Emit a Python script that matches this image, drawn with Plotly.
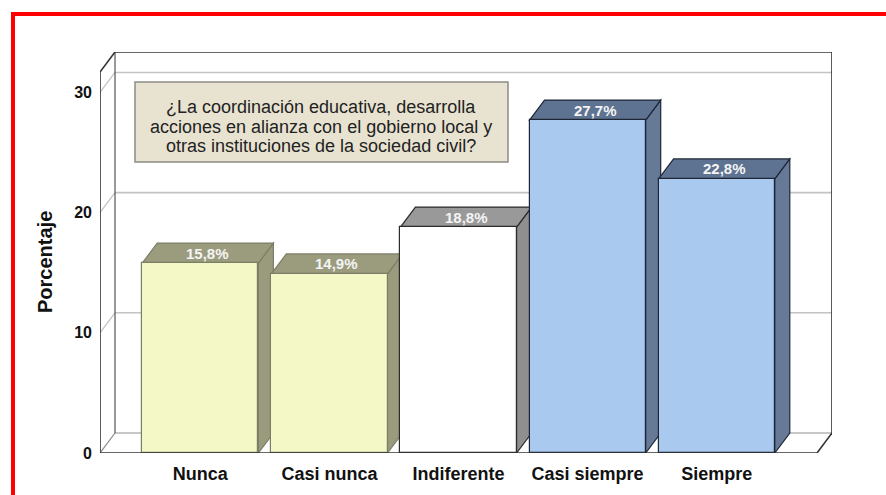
import plotly.graph_objects as go

# ---- data ----
categories = ["Nunca", "Casi nunca", "Indiferente", "Casi siempre", "Siempre"]
values = [15.8, 14.9, 18.8, 27.7, 22.8]
value_labels = ["15,8%", "14,9%", "18,8%", "27,7%", "22,8%"]
y_ticks = [0, 10, 20, 30]
title_lines = ["¿La coordinación educativa, desarrolla",
               "acciones en alianza con el gobierno local y",
               "otras instituciones de la sociedad civil?"]
y_title = "Porcentaje"

# ---- styles ----
front_colors = ["#f3f8c6", "#f3f8c6", "#ffffff", "#a9c9ef", "#a9c9ef"]
top_colors = ["#9b9c7e", "#9b9c7e", "#999999", "#5e7391", "#5e7391"]
side_colors = ["#9a9b7d", "#9a9b7d", "#8f8f8f", "#667a98", "#667a98"]
edge_colors = ["#7d7e66", "#7d7e66", "#2b2b2b", "#1e2636", "#1e2636"]

W, H = 886, 495
L, R, T, B = 100, 54, 52, 42
plot_w = W - L - R
plot_h = H - T - B

bar_w = 0.9
xlo, xhi = -0.777, len(categories) - 1 + 0.777
depth_px_x, depth_px_y = 15, 20
dx = depth_px_x * (xhi - xlo) / (plot_w - depth_px_x)
y_front_top = 31.7
ppu = (plot_h - depth_px_y) / y_front_top  # pixels per unit
dy = depth_px_y / ppu
ymax = y_front_top + dy


def pxx(px):
    return (px - L) / plot_w


def pxy(py):
    return (H - B - py) / plot_h


font = "Arial, 'Liberation Sans', sans-serif"

fig = go.Figure()
fig.add_trace(go.Bar(
    x=list(range(len(categories))), y=values, width=bar_w,
    marker=dict(color=front_colors, line=dict(color=edge_colors, width=1.2)),
    hoverinfo="skip", showlegend=False,
))

shapes = []
grid = "#c4c4c4"
frame = "#333333"

# back wall gridlines + left wall diagonals
for v in y_ticks[1:]:
    shapes.append(dict(type="line", xref="x", yref="y", x0=xlo + dx, x1=xhi + dx,
                       y0=v + dy, y1=v + dy, line=dict(color=grid, width=1.6), layer="below"))
    shapes.append(dict(type="line", xref="x", yref="y", x0=xlo, x1=xlo + dx,
                       y0=v, y1=v + dy, line=dict(color=grid, width=1.3), layer="below"))
# floor back edge & left floor diagonal & back-left vertical
shapes.append(dict(type="line", xref="x", yref="y", x0=xlo + dx, x1=xhi + dx, y0=dy, y1=dy,
                   line=dict(color="#b5b5b5", width=1.5), layer="below"))
shapes.append(dict(type="line", xref="x", yref="y", x0=xlo, x1=xlo + dx, y0=0, y1=dy,
                   line=dict(color="#888888", width=1.2), layer="below"))
shapes.append(dict(type="line", xref="x", yref="y", x0=xlo + dx, x1=xlo + dx, y0=dy, y1=ymax,
                   line=dict(color="#555555", width=1.2), layer="below"))

# 3D bar top and side faces
for i, v in enumerate(values):
    x0, x1 = i - bar_w / 2, i + bar_w / 2
    top = f"M {x0},{v} L {x0 + dx},{v + dy} L {x1 + dx},{v + dy} L {x1},{v} Z"
    side = f"M {x1},0 L {x1},{v} L {x1 + dx},{v + dy} L {x1 + dx},{dy} Z"
    shapes.append(dict(type="path", xref="x", yref="y", path=side, fillcolor=side_colors[i],
                       line=dict(color=edge_colors[i], width=1.2), layer="below"))
    shapes.append(dict(type="path", xref="x", yref="y", path=top, fillcolor=top_colors[i],
                       line=dict(color=edge_colors[i], width=1.2), layer="below"))

# frame lines
for (a, b, c, d) in [
    (xlo, 0, xlo, y_front_top),
    (xlo, y_front_top, xlo + dx, ymax),
    (xlo + dx, ymax, xhi + dx, ymax),
    (xhi + dx, dy, xhi + dx, ymax),
    (xlo, 0, xhi, 0),
    (xhi, 0, xhi + dx, dy),
]:
    shapes.append(dict(type="line", xref="x", yref="y", x0=a, y0=b, x1=c, y1=d,
                       line=dict(color=frame, width=1.6), layer="above"))

# title box
shapes.append(dict(type="rect", xref="paper", yref="paper",
                   x0=pxx(135), x1=pxx(508), y0=pxy(162), y1=pxy(82),
                   fillcolor="#e8e3d1", line=dict(color="#8d8d85", width=1.5), layer="above"))

# red outer border
shapes.append(dict(type="rect", xref="paper", yref="paper",
                   x0=pxx(13), x1=pxx(960), y0=pxy(560), y1=pxy(14),
                   line=dict(color="#ff0000", width=4), fillcolor="rgba(0,0,0,0)", layer="above"))

annotations = []
for i, (v, lab) in enumerate(zip(values, value_labels)):
    annotations.append(dict(x=i + dx / 2, y=v + dy / 2, xref="x", yref="y", text=lab,
                            showarrow=False, xanchor="center", yanchor="middle",
                            font=dict(family=font, size=15, color="#f4f4f4", weight="bold")))
for k, (line, py) in enumerate(zip(title_lines, [107, 127, 146])):
    annotations.append(dict(x=pxx(321), y=pxy(py), xref="paper", yref="paper", text=line,
                            showarrow=False, xanchor="center", yanchor="middle",
                            font=dict(family=font, size=18, color="#222222")))
annotations.append(dict(x=pxx(45), y=pxy(262), xref="paper", yref="paper", text=y_title,
                        textangle=-90, showarrow=False, xanchor="center", yanchor="middle",
                        font=dict(family=font, size=20, color="#111111", weight="bold")))

fig.update_layout(
    width=W, height=H,
    margin=dict(l=L, r=R, t=T, b=B, pad=0),
    paper_bgcolor="white", plot_bgcolor="white",
    shapes=shapes, annotations=annotations,
    bargap=0,
    xaxis=dict(range=[xlo, xhi + dx], tickvals=list(range(len(categories))), ticktext=categories,
               showgrid=False, zeroline=False, showline=False, ticks="",
               ticklabelstandoff=8,
               tickfont=dict(family=font, size=18, color="#111111", weight="bold"),
               fixedrange=True),
    yaxis=dict(range=[0, ymax], tickvals=y_ticks, showgrid=False, zeroline=False,
               showline=False, ticks="", ticklabelstandoff=7,
               tickfont=dict(family=font, size=16, color="#111111", weight="bold"),
               fixedrange=True),
)

fig.write_html("out.html", config={"displayModeBar": False},
               post_script="document.body.style.margin='0px';document.body.style.overflow='hidden';")
